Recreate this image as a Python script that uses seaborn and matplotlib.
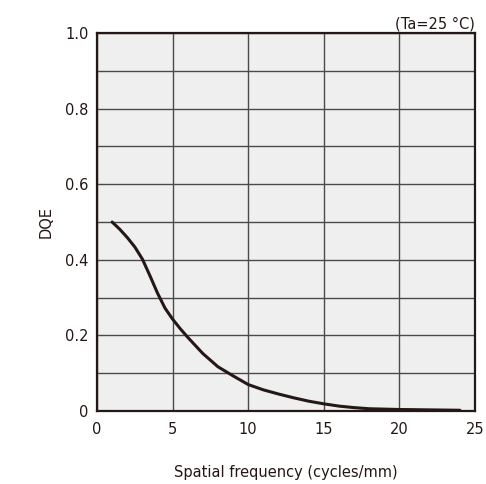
import numpy as np
import pandas as pd
import seaborn as sns
import matplotlib
matplotlib.use('Agg')
import matplotlib.pyplot as plt

# values
freq = [1, 1.5, 2, 2.5, 3, 3.5, 4, 4.5, 5, 5.5, 6, 7, 8, 9, 10, 11, 12, 13, 14,
        15, 16, 17, 18, 19, 20, 22, 24]
dqe = [0.50, 0.481, 0.459, 0.434, 0.402, 0.358, 0.312, 0.272, 0.243, 0.218, 0.195,
       0.152, 0.117, 0.093, 0.07, 0.056, 0.045, 0.035, 0.026, 0.019, 0.013, 0.009,
       0.006, 0.005, 0.004, 0.003, 0.002]
x_ticks = [0, 5, 10, 15, 20, 25]
y_ticks = [0, 0.2, 0.4, 0.6, 0.8, 1.0]
y_labels = ['0', '0.2', '0.4', '0.6', '0.8', '1.0']

sns.set_style('white')
plt.rcParams['font.family'] = ['DejaVu Sans']

fig = plt.figure(figsize=(4.86, 4.84), dpi=100)
ax = fig.add_axes([0.1996, 0.1508, 0.7778, 0.7810])
ax.set_facecolor('#efefef')

df = pd.DataFrame({'freq': freq, 'dqe': dqe})
sns.lineplot(data=df, x='freq', y='dqe', ax=ax, color='#231815', linewidth=2.2)

ax.set_xlim(0, 25)
ax.set_ylim(0, 1.0)
ax.set_xticks(x_ticks)
ax.set_yticks(y_ticks)
ax.set_yticklabels(y_labels)
ax.set_yticks(np.arange(0.1, 1.0, 0.2), minor=True)
ax.grid(True, which='both', color='#4a4a4a', linewidth=1.0)
ax.set_axisbelow(True)
ax.tick_params(axis='both', which='both', length=0, labelsize=10.5, colors='#231815')
ax.tick_params(axis='x', pad=8)
ax.tick_params(axis='y', pad=6)
for s in ax.spines.values():
    s.set_color('#231815')
    s.set_linewidth(1.6)
    s.set_visible(True)

ax.set_xlabel('Spatial frequency (cycles/mm)', fontsize=10.5, labelpad=20, color='#231815')
ax.set_ylabel('DQE', fontsize=10.5, labelpad=8, color='#231815')
ax.set_title('(Ta=25 °C)', loc='right', fontsize=10.5, pad=3, color='#231815')

fig.savefig('out.png', dpi=100)
